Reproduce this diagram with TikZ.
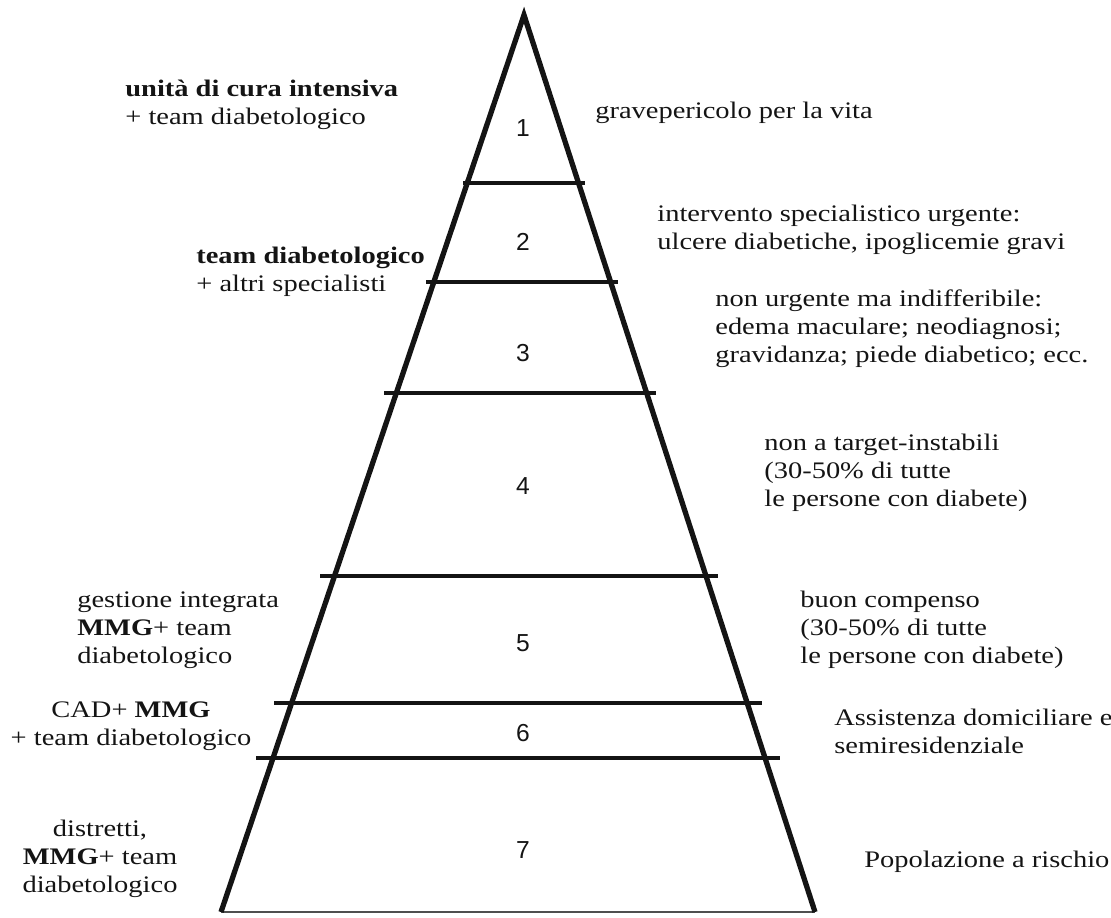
\documentclass[tikz,border=0pt]{standalone}
\usepackage{fontspec}
\setmainfont{Liberation Serif}
\newfontfamily\labfont[FakeStretch=1.2]{Liberation Serif}
\newfontfamily\numfont{Liberation Sans}
\definecolor{ink}{HTML}{141414}

\begin{document}
\begin{tikzpicture}[x=0.02cm, y=-0.02cm,
      edge/.style={line width=3pt, ink, line join=miter},
      level/.style={line width=2pt, ink},
      base/.style={line width=1.6pt, ink!75},
      num/.style={font=\numfont\fontsize{14}{16}\selectfont, text=ink, inner sep=0pt},
      lab/.style={font=\labfont\fontsize{13.5}{16}\selectfont, text=ink, inner sep=0pt,
                  align=left, anchor=west},
      labc/.style={lab, align=center, anchor=center}
    ]
      \useasboundingbox (0,0) rectangle (1111,917);

      % Pyramid
      \coordinate (top) at (524,15);
      \coordinate (bl) at (221,912);
      \coordinate (br) at (815,912);
      \draw[base] (bl) -- (br);
      \draw[edge] (bl) -- (top) -- (br);

      % Levels
      \draw[level] (463,183) -- (585,183);
      \draw[level] (426,282) -- (618,282);
      \draw[level] (384,393) -- (656,393);
      \draw[level] (320,576) -- (718,576);
      \draw[level] (274,703) -- (762,703);
      \draw[level] (256,758) -- (780,758);

      % Numbers
      \node[num] (n1) at (523,128) {1};
      \node[num] (n2) at (523,242) {2};
      \node[num] (n3) at (523,353) {3};
      \node[num] (n4) at (523,486) {4};
      \node[num] (n5) at (523,643) {5};
      \node[num] (n6) at (523,733) {6};
      \node[num] (n7) at (523,850) {7};

      % Left: who cares
      \node[lab] (icu) at (125,105) {\textbf{unità di cura intensiva}\\+ team diabetologico};
      \node[lab] (team) at (196,272) {\textbf{team diabetologico}\\+ altri specialisti};
      \node[lab] (integr) at (77,630) {gestione integrata\\\textbf{MMG}+ team\\diabetologico};
      \node[labc] (cad) at (131,726) {CAD+ \textbf{MMG}\\+ team diabetologico};
      \node[labc] (distr) at (100,859) {distretti,\\\textbf{MMG}+ team\\diabetologico};

      % Right: patients
      \node[lab] (grave) at (595,113) {gravepericolo per la vita};
      \node[lab] (urgent) at (657,230) {intervento specialistico urgente:\\ulcere diabetiche, ipoglicemie gravi};
      \node[lab] (nonurg) at (715,329) {non urgente ma indifferibile:\\edema maculare; neodiagnosi;\\gravidanza; piede diabetico; ecc.};
      \node[lab] (target) at (764,473) {non a target-instabili\\(30-50\% di tutte\\le persone con diabete)};
      \node[lab] (buon) at (800,630) {buon compenso\\(30-50\% di tutte\\le persone con diabete)};
      \node[lab] (domic) at (834,731) {Assistenza domiciliare e\\semiresidenziale};
      \node[lab] (risk) at (864,862) {Popolazione a rischio};
    \end{tikzpicture}
\end{document}
